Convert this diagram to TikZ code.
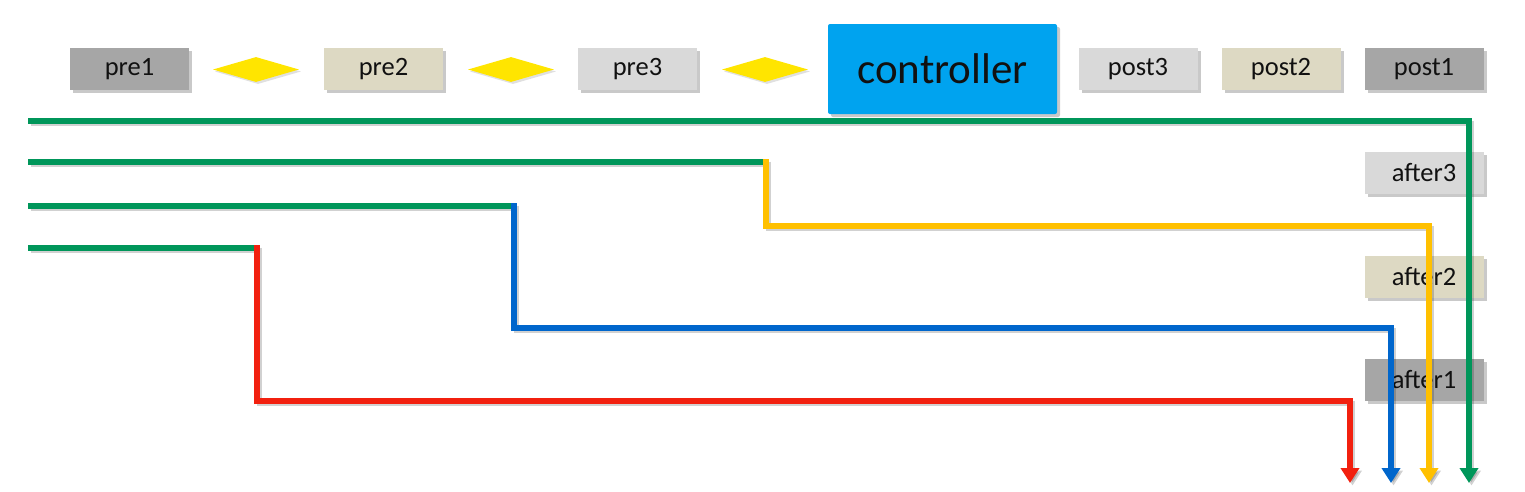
\documentclass[tikz,border=0pt]{standalone}
\usepackage{fontspec}
\setmainfont{Carlito}
\usetikzlibrary{shapes.geometric,arrows.meta,shadows}
\definecolor{gdark}{HTML}{A6A6A6}
\definecolor{gbeige}{HTML}{DDD9C3}
\definecolor{glight}{HTML}{D9D9D9}
\definecolor{ctrl}{HTML}{00A3EF}
\definecolor{dyel}{HTML}{FFE500}
\definecolor{lgreen}{HTML}{00965A}
\definecolor{lyel}{HTML}{FFC000}
\definecolor{lblue}{HTML}{0066CC}
\definecolor{lred}{HTML}{F2200F}
\definecolor{txt}{HTML}{111111}
\tikzset{
  boxshadow/.style={drop shadow={shadow xshift=3pt,shadow yshift=-3pt,opacity=0.3,fill=black!70}},
  smallbox/.style={rectangle,minimum width=119pt,minimum height=42pt,inner sep=0pt,boxshadow,
    text=txt,font=\fontsize{26.5}{30}\selectfont},
  dia/.style={diamond,fill=dyel,minimum width=86pt,minimum height=25pt,inner sep=0pt,
    drop shadow={shadow xshift=2pt,shadow yshift=-2pt,opacity=0.2,fill=black!60}},
  flow/.style={line width=5.6pt,line join=miter,
    preaction={draw=black,opacity=0.18,line width=5.6pt,transform canvas={shift={(2.5pt,-2.5pt)}}}},
  tip/.style={-{Triangle[width=18pt,length=15pt]}}
}
\begin{document}
\begin{tikzpicture}[x=1pt,y=-1pt]
\useasboundingbox (0,0) rectangle (1525,491);
% top row
\node[smallbox,fill=gdark] (pre1) at (129.5,69) {pre1};
\node[dia] (d1) at (256,69.5) {};
\node[smallbox,fill=gbeige] (pre2) at (383.5,69) {pre2};
\node[dia] (d2) at (511,69.5) {};
\node[smallbox,fill=glight] (pre3) at (637.5,69) {pre3};
\node[dia] (d3) at (765,69.5) {};
\node[rectangle,rounded corners=2pt,fill=ctrl,minimum width=229pt,minimum height=90pt,inner sep=0pt,
  boxshadow,text=txt,font=\fontsize{43}{50}\selectfont] (ctl) at (942.5,69) {controller};
\node[smallbox,fill=glight] (post3) at (1138,69) {post3};
\node[smallbox,fill=gbeige] (post2) at (1281,69) {post2};
\node[smallbox,fill=gdark] (post1) at (1424,69) {post1};
% right column
\node[smallbox,fill=glight] (after3) at (1424,173) {after3};
\node[smallbox,fill=gbeige] (after2) at (1424,277) {after2};
\node[smallbox,fill=gdark] (after1) at (1424,380) {after1};
% coordinates
\coordinate (s1) at (28,121);
\coordinate (k1) at (1469,121);
\coordinate (e1) at (1469,483);
\coordinate (s2) at (28,162);
\coordinate (j2) at (766,162);
\coordinate (j2t) at (766,159.2);
\coordinate (k2a) at (766,226);
\coordinate (k2b) at (1429,226);
\coordinate (e2) at (1429,483);
\coordinate (s3) at (28,206);
\coordinate (j3) at (514,206);
\coordinate (j3t) at (514,203.2);
\coordinate (k3a) at (514,328);
\coordinate (k3b) at (1391,328);
\coordinate (e3) at (1391,483);
\coordinate (s4) at (28,248);
\coordinate (j4) at (257,248);
\coordinate (j4t) at (257,245.2);
\coordinate (k4a) at (257,401);
\coordinate (k4b) at (1350,401);
\coordinate (e4) at (1350,483);
% flows
\draw[flow,draw=lgreen] (s2) -- (j2);
\draw[flow,draw=lgreen] (s3) -- (j3);
\draw[flow,draw=lgreen] (s4) -- (j4);
\draw[flow,tip,draw=lred] (j4t) -- (k4a) -- (k4b) -- (e4);
\draw[flow,tip,draw=lblue] (j3t) -- (k3a) -- (k3b) -- (e3);
\draw[flow,tip,draw=lyel] (j2t) -- (k2a) -- (k2b) -- (e2);
\draw[flow,tip,draw=lgreen] (s1) -- (k1) -- (e1);
\end{tikzpicture}
\end{document}
